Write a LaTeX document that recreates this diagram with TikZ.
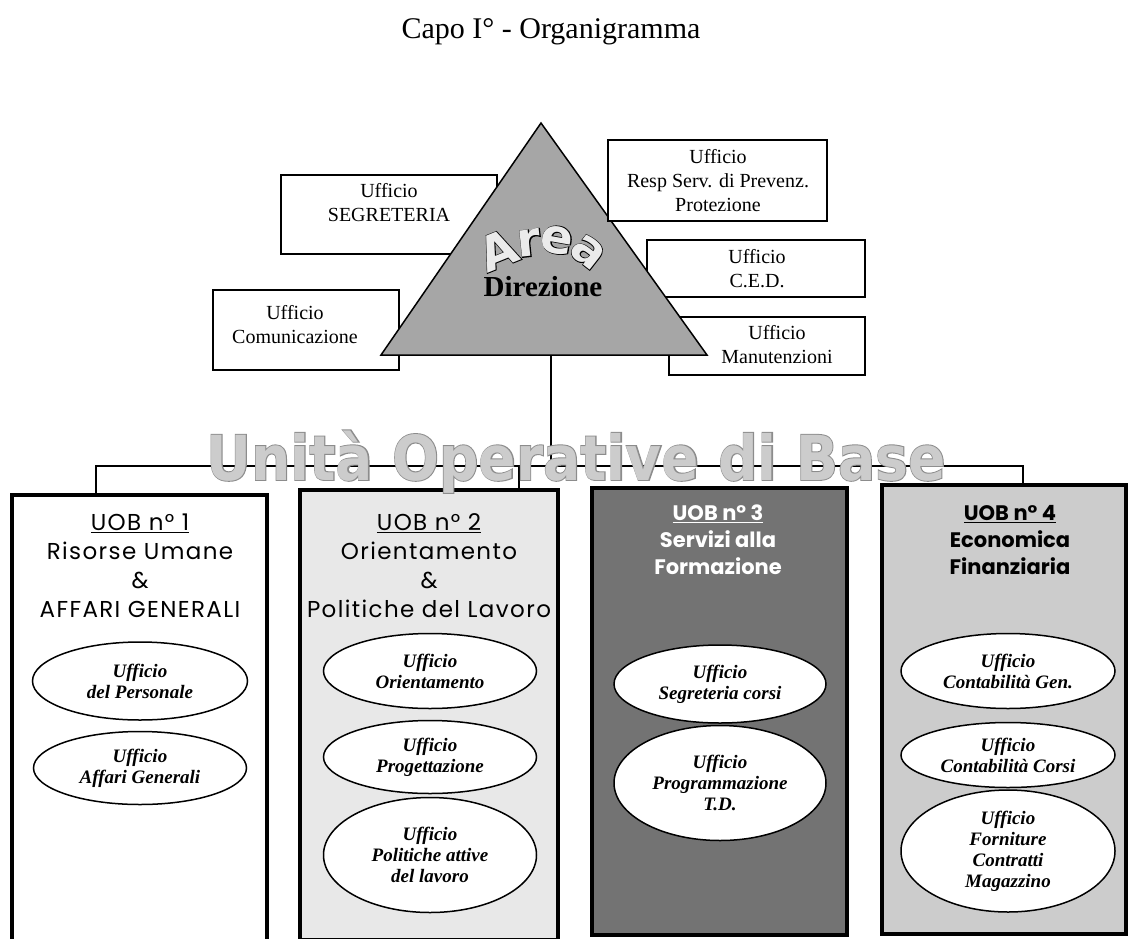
\documentclass[tikz,border=0pt]{standalone}
\usepackage{fontspec}
\setmainfont{Liberation Serif}
\newfontfamily\popfont[LetterSpace=6]{Poppins}
\newfontfamily\popbold{Poppins Bold}
\newfontfamily\djbold{DejaVu Sans Bold}
\newfontfamily\djout[FakeBold=3]{DejaVu Sans Bold}
\usetikzlibrary{shapes.geometric}

\tikzset{
  office/.style={draw, line width=1.2pt, fill=white, inner sep=0pt},
  offtxt/.style={align=center, font=\fontsize{20}{24}\selectfont},
  uob/.style={draw, line width=4pt, inner sep=0pt},
  uobtxt/.style={align=center, font=\popfont\fontsize{23}{29}\selectfont},
  uobbold/.style={align=center, font=\popbold\fontsize{21}{27}\selectfont},
  uff/.style={ellipse, draw, line width=1.5pt, fill=white, inner sep=0pt},
  ufftxt/.style={align=center, font=\bfseries\itshape\fontsize{19}{21}\selectfont},
  link/.style={line width=2.5pt},
}

\begin{document}
\begin{tikzpicture}[x=1pt,y=-1pt]
	\useasboundingbox (0,0) rectangle (1130,938);
	\node[anchor=base, font=\fontsize{30}{36}\selectfont] (title) at (551,38) {Capo I° - Organigramma};

	% uffici di staff, dietro al triangolo
	\node[office, minimum width=216pt, minimum height=79pt] (segr) at (389,214.5) {};
	\node[office, minimum width=186pt, minimum height=80pt] (comun) at (306,330) {};
	\node[office, minimum width=218pt, minimum height=57pt] (ced) at (756,268.5) {};
	\node[office, minimum width=196pt, minimum height=58pt] (manut) at (767,346) {};

	% area direzione
	\draw[fill=black!35, line width=1.5pt] (381,355) coordinate (dirL) -- (541,123) coordinate (dirT) -- (707,355) coordinate (dirR) -- cycle;
	\coordinate (dirB) at (551,355);
	\node[office, minimum width=219pt, minimum height=81pt] (resp) at (717.5,180.5) {};

	\node[offtxt] (segrT) at (389,203) {Ufficio\\SEGRETERIA};
	\node[offtxt] (comunT) at (295,325) {Ufficio\\Comunicazione};
	\node[offtxt] (cedT) at (757,269) {Ufficio\\C.E.D.};
	\node[offtxt] (manutT) at (777,345) {Ufficio\\Manutenzioni};
	\node[offtxt] (respT) at (718,181) {Ufficio\\Resp Serv. di Prevenz.\\Protezione};

	\foreach \l/\ax/\ay/\r [count=\i] in {A/498/250/22, r/529/243/6, e/557/240/-10, a/588/252/-38} {
		\node[font=\djout\fontsize{48}{48}\selectfont, rotate=\r] (areaS\i) at (\ax,\ay) {\l};
		\node[font=\djbold\fontsize{48}{48}\selectfont, text=black!8, rotate=\r] (area\i) at (\ax,\ay) {\l};
	}
	\node[font=\bfseries\fontsize{29}{29}\selectfont] (dirT) at (543,287) {Direzione};

	% unita' operative di base
	\node[uob, fill=white, minimum width=255pt, minimum height=447pt] (uob1) at (139.5,718.5) {};
	\node[uob, fill=black!9, minimum width=258pt, minimum height=450pt] (uob2) at (429,715) {};
	\node[uob, fill=black!55, minimum width=255pt, minimum height=447pt] (uob3) at (719.5,711.5) {};
	\node[uob, fill=black!20, minimum width=244pt, minimum height=449pt] (uob4) at (1004,709.5) {};

	\node[uobtxt] (h1) at (140,566) {\underline{UOB n° 1}\\Risorse Umane\\\&\\AFFARI GENERALI};
	\node[uobtxt] (h2) at (429,566) {\underline{UOB n° 2}\\Orientamento\\\&\\Politiche del Lavoro};
	\node[uobbold, text=white] (h3) at (718,540) {\underline{UOB n° 3}\\Servizi alla\\Formazione};
	\node[uobbold] (h4) at (1010,540) {\underline{UOB n° 4}\\Economica\\Finanziaria};

	\foreach \nm/\cx/\cy/\w/\h/\txt in {
		f11/140/681/215/78/{Ufficio\\del Personale},
		f12/140/768/213/73/{Ufficio\\Affari Generali},
		f21/430/671/213/75/{Ufficio\\Orientamento},
		f22/430/757/213/73/{Ufficio\\Progettazione},
		f23/430/855/213/115/{Ufficio\\Politiche attive\\del lavoro},
		f31/720/684/212/78/{Ufficio\\Segreteria corsi},
		f32/720/783/212/115/{Ufficio\\Programmazione\\T.D.},
		f41/1008/671/214/75/{Ufficio\\Contabilità Gen.},
		f42/1008/755/214/65/{Ufficio\\Contabilità Corsi},
		f43/1008/851/214/122/{Ufficio\\Forniture\\Contratti\\Magazzino}} {
		\node[uff, minimum width=\w pt, minimum height=\h pt] (\nm) at (\cx,\cy) {};
		\node[ufftxt] (\nm txt) at (\nm) {\txt};
	}

	% collegamenti
	\coordinate (busL) at (96,466);
	\coordinate (busR) at (1023,466);
	\coordinate (bus2) at (519,466);
	\draw[link] (uob1.north -| busL) -- (busL) -- (busR) -- (uob4.north -| busR);
	\draw[link] (dirB) -- (dirB |- busL);
	\draw[link] (bus2) -- (bus2 |- uob2.north);

	\node[anchor=base, text=black!45, font=\djout\fontsize{62}{62}\selectfont] (uobS) at (576,480) {\scalebox{0.89}[1]{Unità Operative di Base}};
	\node[anchor=base, text=black!20, font=\djbold\fontsize{62}{62}\selectfont] (uobT) at (576,480) {\scalebox{0.89}[1]{Unità Operative di Base}};
\end{tikzpicture}
\end{document}
